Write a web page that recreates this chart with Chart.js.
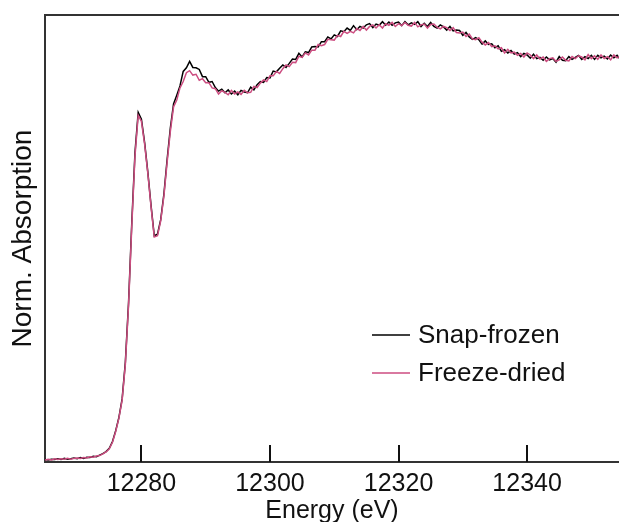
<!DOCTYPE html>
<html>
<head>
<meta charset="utf-8">
<script src="https://cdn.jsdelivr.net/npm/chart.js@4.4.1/dist/chart.umd.min.js"></script>
<style>
html,body{margin:0;padding:0;background:#fff;overflow:hidden;}
#wrap{width:619px;height:522px;}
</style>
</head>
<body>
<div id="wrap"><canvas id="c" width="619" height="522"></canvas></div>
<script>
// ---- data ----
const seriesLabels = ['Snap-frozen', 'Freeze-dried'];
const xTickValues = [12280, 12300, 12320, 12340];

const energy = [
12265,12265.5,12266,12266.5,12267,12267.5,12268,12268.5,12269,12269.5,12270,12270.5,12271,12271.5,12272,12272.5,12273,
12273.5,12274,12274.5,12275,12275.5,12276,12276.5,12277,12277.5,12278,12278.5,12279,12279.5,12280,12280.5,12281,12281.5,12282,12282.5,12283,12283.5,12284,12284.5,12285,
12285.5,12286,12286.5,12287,12287.5,12288,12288.5,12289,12289.5,12290,
12290.5,12291,12291.5,12292,12292.5,12293,12293.5,12294,12294.5,12295,
12295.5,12296,12296.5,12297,12297.5,12298,12298.5,12299,12299.5,12300,
12300.5,12301,12301.5,12302,12302.5,12303,12303.5,12304,12304.5,12305,
12305.5,12306,12306.5,12307,12307.5,12308,12308.5,12309,12309.5,12310,
12310.5,12311,12311.5,12312,12312.5,12313,12313.5,12314,12314.5,12315,
12315.5,12316,12316.5,12317,12317.5,12318,12318.5,12319,12319.5,12320,
12320.5,12321,12321.5,12322,12322.5,12323,12323.5,12324,12324.5,12325,
12325.5,12326,12326.5,12327,12327.5,12328,12328.5,12329,12329.5,12330,
12330.5,12331,12331.5,12332,12332.5,12333,12333.5,12334,12334.5,12335,
12335.5,12336,12336.5,12337,12337.5,12338,12338.5,12339,12339.5,12340,
12340.5,12341,12341.5,12342,12342.5,12343,12343.5,12344,12344.5,12345,
12345.5,12346,12346.5,12347,12347.5,12348,12348.5,12349,12349.5,12350,
12350.5,12351,12351.5,12352,12352.5,12353,12353.5,12354,12354.5,12355
];

const snapFrozen = [
0.001,0.000,0.002,0.001,0.003,0.001,0.004,0.002,0.003,0.005,0.003,0.006,0.004,0.007,0.006,0.009,0.008,
0.012,0.016,0.021,0.029,0.046,0.073,0.106,0.152,0.243,0.392,0.590,0.765,0.865,0.848,0.790,0.716,0.633,0.558,0.562,0.598,0.662,0.748,0.826,0.886,
0.908,0.931,0.967,0.976,0.992,0.977,0.976,0.972,0.954,0.954,
0.940,0.942,0.927,0.918,0.923,0.914,0.921,0.911,0.918,0.909,
0.920,0.916,0.914,0.928,0.921,0.934,0.942,0.940,0.952,0.951,
0.968,0.966,0.975,0.983,0.977,0.987,0.998,0.997,1.012,1.003,
1.016,1.014,1.028,1.029,1.028,1.041,1.041,1.053,1.048,1.058,
1.054,1.068,1.066,1.075,1.069,1.081,1.071,1.079,1.075,1.083,
1.086,1.076,1.085,1.082,1.091,1.082,1.090,1.082,1.088,1.090,
1.081,1.091,1.083,1.088,1.084,1.091,1.079,1.087,1.079,1.089,
1.079,1.075,1.083,1.078,1.070,1.079,1.068,1.070,1.069,1.057,
1.064,1.053,1.047,1.051,1.046,1.035,1.043,1.034,1.036,1.026,
1.031,1.017,1.021,1.013,1.019,1.010,1.014,1.004,1.012,1.008,
1.000,1.010,0.999,1.002,0.995,1.003,0.996,0.999,0.990,1.004,
0.995,0.994,1.004,0.997,1.002,1.007,0.997,1.004,0.999,1.007,
0.997,1.007,1.001,1.005,0.998,1.008,1.001,1.007,0.997,1.004
];

const freezeDried = [
0.000,0.002,0.000,0.003,0.001,0.003,0.002,0.004,0.002,0.004,0.005,0.004,0.006,0.005,0.008,0.007,0.010,
0.011,0.015,0.020,0.028,0.044,0.071,0.104,0.149,0.238,0.386,0.582,0.757,0.858,0.843,0.786,0.713,0.630,0.555,0.558,0.595,0.657,0.741,0.818,0.879,
0.896,0.926,0.942,0.964,0.969,0.958,0.960,0.945,0.949,0.939,
0.939,0.926,0.924,0.911,0.919,0.915,0.909,0.920,0.911,0.916,
0.910,0.920,0.914,0.915,0.930,0.927,0.938,0.946,0.942,0.956,
0.956,0.967,0.962,0.974,0.983,0.979,0.990,0.989,1.005,1.002,
1.013,1.008,1.020,1.020,1.034,1.031,1.034,1.047,1.046,1.045,
1.057,1.054,1.067,1.062,1.067,1.063,1.074,1.069,1.079,1.070,
1.079,1.083,1.075,1.083,1.075,1.086,1.082,1.089,1.079,1.086,
1.081,1.089,1.082,1.080,1.089,1.078,1.083,1.085,1.075,1.084,
1.085,1.077,1.073,1.079,1.076,1.069,1.076,1.064,1.063,1.065,
1.054,1.060,1.048,1.046,1.051,1.040,1.033,1.039,1.029,1.031,
1.023,1.026,1.013,1.022,1.013,1.015,1.007,1.012,1.003,1.013,
1.008,0.999,1.008,0.998,1.003,0.992,0.999,1.001,0.992,0.996,
1.003,0.995,0.993,1.004,0.999,1.006,1.003,0.996,1.009,0.999,
1.006,0.997,1.008,0.999,1.004,0.996,1.008,1.001,1.006,0.997
];

// ---- styling ----
const FONT = "'Liberation Sans', Arial, Helvetica, sans-serif";
const BLACK = '#000000';
const PINK = '#cc4d80';
const FRAME = '#333333';

const framePlugin = {
  id: 'frameAndTicks',
  afterDraw(chart) {
    const {ctx, chartArea} = chart;
    const xs = chart.scales.x;
    ctx.save();
    ctx.strokeStyle = FRAME;
    ctx.lineWidth = 2;
    ctx.beginPath();
    ctx.moveTo(chartArea.left - 1, chartArea.top);
    ctx.lineTo(chartArea.right + 2, chartArea.top);
    ctx.stroke();
    ctx.strokeStyle = '#111';
    ctx.lineWidth = 2;
    xs.ticks.forEach(t => {
      const px = Math.round(xs.getPixelForValue(t.value));
      ctx.beginPath();
      ctx.moveTo(px, chartArea.bottom);
      ctx.lineTo(px, chartArea.bottom - 17);
      ctx.stroke();
    });
    ctx.restore();
  }
};

const legendPlugin = {
  id: 'insideLegend',
  afterDraw(chart) {
    const {ctx, chartArea} = chart;
    const items = [
      {text: chart.data.datasets[0].label, color: chart.data.datasets[0].borderColor},
      {text: chart.data.datasets[1].label, color: chart.data.datasets[1].borderColor}
    ];
    const x0 = chartArea.left + 327;
    const y0 = chartArea.top + 320;
    const gap = 38;
    ctx.save();
    ctx.font = '26px ' + FONT;
    ctx.textBaseline = 'middle';
    ctx.textAlign = 'left';
    items.forEach((it, i) => {
      const y = y0 + i * gap;
      ctx.strokeStyle = it.color;
      ctx.lineWidth = 1.5;
      ctx.beginPath();
      ctx.moveTo(x0, y);
      ctx.lineTo(x0 + 38, y);
      ctx.stroke();
      ctx.fillStyle = '#111';
      ctx.fillText(it.text, x0 + 46, y + 1);
    });
    ctx.restore();
  }
};

new Chart(document.getElementById('c'), {
  type: 'line',
  data: {
    datasets: [
      {
        label: seriesLabels[0],
        data: energy.map((e, i) => ({x: e, y: snapFrozen[i]})),
        borderColor: BLACK,
        borderWidth: 1.5,
        pointRadius: 0,
        tension: 0,
        fill: false,
        order: 1
      },
      {
        label: seriesLabels[1],
        data: energy.map((e, i) => ({x: e, y: freezeDried[i]})),
        borderColor: PINK,
        borderWidth: 1.5,
        pointRadius: 0,
        tension: 0,
        fill: false,
        order: 0
      }
    ]
  },
  options: {
    responsive: false,
    animation: false,
    devicePixelRatio: 1,
    layout: {padding: {top: 15, right: 0, left: 0, bottom: 0}},
    plugins: {legend: {display: false}, tooltip: {enabled: false}},
    scales: {
      x: {
        type: 'linear',
        min: 12265,
        max: 12354.3,
        afterBuildTicks: s => { s.ticks = xTickValues.map(v => ({value: v})); },
        ticks: {
          color: '#111',
          font: {family: FONT, size: 25, lineHeight: 1.2},
          padding: -1,
          maxRotation: 0,
          callback: v => String(v)
        },
        grid: {display: false},
        border: {display: true, color: FRAME, width: 2},
        title: {
          display: true,
          text: 'Energy (eV)',
          color: '#111',
          font: {family: FONT, size: 25, lineHeight: 1.0},
          padding: {top: 1, bottom: -2}
        }
      },
      y: {
        min: -0.005,
        max: 1.1075,
        ticks: {display: false},
        grid: {display: false},
        border: {display: true, color: FRAME, width: 2},
        title: {
          display: true,
          text: 'Norm. Absorption',
          color: '#111',
          font: {family: FONT, size: 28, lineHeight: 1.0},
          padding: {top: 9, bottom: 0}
        }
      }
    }
  },
  plugins: [framePlugin, legendPlugin]
});
</script>
</body>
</html>
